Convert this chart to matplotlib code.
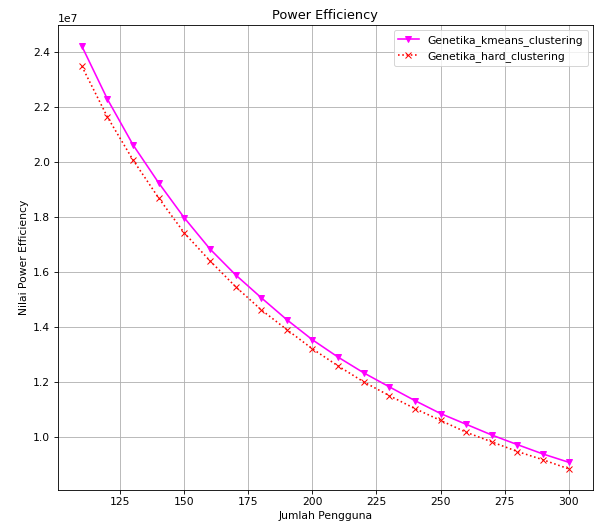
import matplotlib
matplotlib.use("Agg")
import matplotlib.pyplot as plt

jumlah_pengguna = [110, 120, 130, 140, 150, 160, 170, 180, 190, 200,
                   210, 220, 230, 240, 250, 260, 270, 280, 290, 300]
kmeans_clustering = [2.422, 2.229, 2.063, 1.925, 1.798, 1.685, 1.591, 1.508, 1.428, 1.355,
                     1.292, 1.235, 1.184, 1.134, 1.087, 1.048, 1.009, 0.974, 0.940, 0.910]
hard_clustering = [2.349, 2.164, 2.008, 1.870, 1.743, 1.642, 1.548, 1.464, 1.392, 1.322,
                   1.260, 1.202, 1.152, 1.105, 1.062, 1.019, 0.984, 0.949, 0.919, 0.886]
scale = 1e7

k = 1.07
plt.rcParams.update({
    'font.size': 10 * k,
    'lines.linewidth': 1.5 * k,
    'lines.markersize': 6 * k,
    'axes.linewidth': 0.8 * k,
    'grid.linewidth': 0.8 * k,
    'xtick.major.size': 3.5 * k,
    'ytick.major.size': 3.5 * k,
    'xtick.major.width': 0.8 * k,
    'ytick.major.width': 0.8 * k,
})

DPI = 72
fig = plt.figure(figsize=(595/DPI, 528/DPI), dpi=DPI)
ax = fig.add_axes([57.5/595, 1-490/528, (593-57.5)/595, (490-25)/528])
ax.plot(jumlah_pengguna, [v*scale for v in kmeans_clustering], color='magenta', linestyle='-',
        marker='v', label='Genetika_kmeans_clustering')
ax.plot(jumlah_pengguna, [v*scale for v in hard_clustering], color='red', linestyle=':',
        marker='x', label='Genetika_hard_clustering')
ax.set_title('Power Efficiency')
ax.set_xlabel('Jumlah Pengguna')
ax.set_ylabel('Nilai Power Efficiency')
ax.grid(True)
ax.legend(loc='upper right')
fig.savefig('out.png', dpi=DPI)
